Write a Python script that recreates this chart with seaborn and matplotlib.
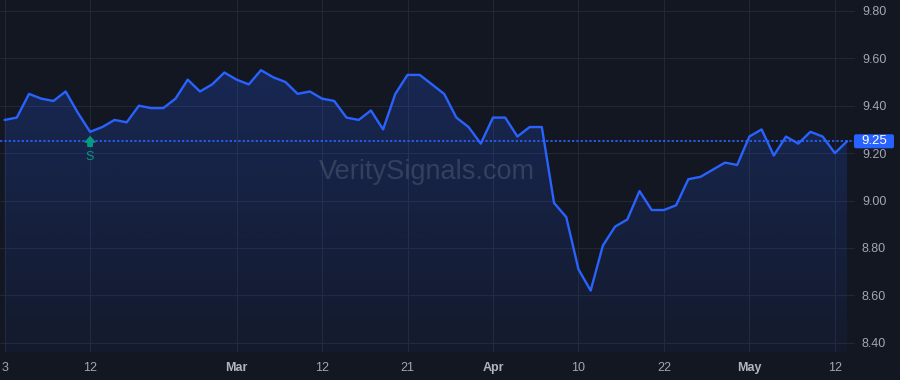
import numpy as np
import pandas as pd
import matplotlib
matplotlib.use("Agg")
import matplotlib.pyplot as plt
import seaborn as sns
from matplotlib import transforms
from matplotlib.patches import FancyBboxPatch
from matplotlib.colors import to_rgb

# ---------------- data ----------------
start_date = "2025-02-03"
end_date = "2025-05-13"
market_holidays = ["2025-02-17", "2025-04-18"]

prices = [
    9.34, 9.35, 9.45, 9.43, 9.42, 9.46, 9.37, 9.29, 9.31, 9.34,
    9.33, 9.40, 9.39, 9.39, 9.43, 9.51, 9.46, 9.49, 9.54, 9.51,
    9.49, 9.55, 9.52, 9.50, 9.45, 9.46, 9.43, 9.42, 9.35, 9.34,
    9.38, 9.30, 9.45, 9.53, 9.53, 9.49, 9.45, 9.35, 9.31, 9.24,
    9.35, 9.35, 9.27, 9.31, 9.31, 8.99, 8.93, 8.71, 8.62, 8.81,
    8.89, 8.92, 9.04, 8.96, 8.96, 8.98, 9.09, 9.10, 9.13, 9.16,
    9.15, 9.27, 9.30, 9.19, 9.27, 9.24, 9.29, 9.27, 9.20, 9.25,
]

tick_dates = ["2025-02-03", "2025-02-12", "2025-03-03", "2025-03-12", "2025-03-21",
              "2025-04-01", "2025-04-10", "2025-04-22", "2025-05-01", "2025-05-12"]
tick_labels = ["3", "12", "Mar", "12", "21", "Apr", "10", "22", "May", "12"]
month_labels = ["Mar", "Apr", "May"]

y_ticks = [8.40, 8.60, 8.80, 9.00, 9.20, 9.40, 9.60, 9.80]
last_price = 9.25
signal_date = "2025-02-12"
signal_label = "S"
watermark = "VeritySignals.com"

# ---------------- styling ----------------
BG = "#131722"
GRID = "#232734"
LINE = "#2962ff"
GREEN = "#089981"
TXT = "#a3a6af"

dates = pd.bdate_range(start_date, end_date, freq="C", holidays=market_holidays)
df = pd.DataFrame({"date": dates, "idx": np.arange(len(dates)), "price": prices})
date_index = pd.DatetimeIndex(dates)
tick_pos = [date_index.get_loc(pd.Timestamp(d)) for d in tick_dates]

sns.set_theme(style="dark")
plt.rcParams["font.family"] = ["Liberation Sans", "DejaVu Sans"]

fig = plt.figure(figsize=(9, 3.8), dpi=100, facecolor=BG)
ax = fig.add_axes([0, 28 / 380, 855 / 900, 352 / 380])
ax.set_facecolor(BG)

xlim = (-0.377, 69.65)
ylim = (8.361, 9.846)

# gradient area fill
poly = ax.fill_between(df["idx"], df["price"], ylim[0], facecolor="none", edgecolor="none")
rgb = to_rgb(LINE)
n = 256
grad = np.zeros((n, 1, 4))
grad[:, 0, :3] = rgb
grad[:, 0, 3] = np.linspace(0.27, 0.05, n)
img = ax.imshow(grad, extent=[xlim[0], xlim[1], ylim[0], ylim[1]], aspect="auto",
                origin="upper", zorder=1, interpolation="bilinear")
img.set_clip_path(poly.get_paths()[0], transform=ax.transData)

# line
sns.lineplot(data=df, x="idx", y="price", ax=ax, color=LINE, linewidth=1.7, zorder=4)

# last price dotted line
ax.axhline(last_price, color=LINE, lw=1.2, ls=(0, (1.4, 1.2)), zorder=3)

ax.set_xlim(*xlim)
ax.set_ylim(*ylim)

# grid & ticks
ax.set_xticks(tick_pos)
ax.set_xticklabels(tick_labels)
for lab in ax.get_xticklabels():
    if lab.get_text() in month_labels:
        lab.set_fontweight("bold")
        lab.set_color("#b2b5be")
    else:
        lab.set_color(TXT)
ax.set_yticks(y_ticks)
ax.set_yticklabels([f"{v:.2f}" for v in y_ticks])
ax.yaxis.tick_right()
ax.tick_params(axis="y", length=0, pad=5, labelsize=9, labelcolor=TXT)
ax.tick_params(axis="x", length=0, pad=7, labelsize=9)
ax.grid(True, color=GRID, lw=0.8)
ax.set_axisbelow(True)
for s in ax.spines.values():
    s.set_visible(False)
ax.set_xlabel("")
ax.set_ylabel("")

# watermark
ax.text(0.499, 0.512, watermark, transform=ax.transAxes, ha="center", va="center",
        fontsize=19.5, color="#b2b5be", alpha=0.2, zorder=2)

# signal marker
si = date_index.get_loc(pd.Timestamp(signal_date))
sp = prices[si]
ax.annotate("", xy=(si, sp), xytext=(0, -10.5), textcoords="offset points",
            arrowprops=dict(arrowstyle="simple,head_length=0.55,head_width=1.0,tail_width=0.45",
                            color=GREEN, shrinkA=0, shrinkB=3.6, mutation_scale=7),
            zorder=5)
ax.annotate(signal_label, xy=(si, sp), xytext=(0, -18), textcoords="offset points",
            ha="center", va="center", color=GREEN, fontsize=9, zorder=5)

# last price label box
bx = 874 / 855
trans = fig.dpi_scale_trans + transforms.ScaledTranslation(bx, last_price, ax.get_yaxis_transform())
box = FancyBboxPatch((-0.20, -0.07), 0.40, 0.14,
                     boxstyle="round,pad=0,rounding_size=0.02",
                     transform=trans, facecolor=LINE, edgecolor="none",
                     clip_on=False, zorder=6)
ax.add_artist(box)
ax.text(bx, last_price, f"{last_price:.2f}", transform=ax.get_yaxis_transform(),
        ha="center", va="center", color="white", fontsize=9.5, zorder=7, clip_on=False)

fig.savefig("out.png", dpi=100, facecolor=BG)
